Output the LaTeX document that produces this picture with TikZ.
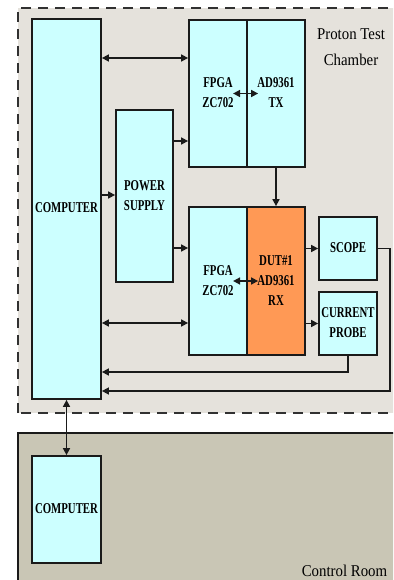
\documentclass[tikz,border=0pt]{standalone}
\usepackage{fontspec}
\setmainfont{Liberation Serif}
\usepackage{graphicx}
\usetikzlibrary{arrows.meta}
\definecolor{boxc}{HTML}{CCFFFF}
\definecolor{dutc}{HTML}{FF9955}
\definecolor{chamberc}{HTML}{E5E2DC}
\definecolor{roomc}{HTML}{C9C6B5}
\definecolor{linec}{HTML}{1A1A1A}
\newcommand{\cz}[1]{\scalebox{0.72}[1]{\begin{tabular}{@{}c@{}}#1\end{tabular}}}
\newcommand{\rz}[1]{\scalebox{0.9}[1]{\begin{tabular}{@{}c@{}}#1\end{tabular}}}
\tikzset{
  box/.style={draw=linec, line width=1.8pt, fill=boxc, inner sep=0pt, anchor=center,
    font=\bfseries\fontsize{15}{20}\selectfont},
  region/.style={font=\fontsize{16.5}{26}\selectfont, inner sep=0pt},
  conn/.style={draw=linec, line width=1.6pt},
  arr/.style={conn, -{Triangle[length=7pt,width=7pt]}},
  darr/.style={conn, {Triangle[length=7pt,width=7pt]}-{Triangle[length=7pt,width=7pt]}}
}
\begin{document}
\begin{tikzpicture}[x=1pt,y=-1pt]
\useasboundingbox (0,0) rectangle (393,580);
\clip (0,0) rectangle (393,580);
\fill[white] (0,0) rectangle (393,580);
% regions
\draw[fill=chamberc, draw=linec!90, line width=2.4pt, dash pattern=on 10pt off 7pt] (18,413) -- (18,8) -- (410,8) -- (410,413) -- cycle;
\draw[fill=roomc, draw=linec, line width=1.8pt] (18,600) -- (18,433) -- (410,433) -- (410,600);
\node[region] (ptc) at (351,47) {\rz{Proton Test\\Chamber}};
\node[region] (cr) at (344.5,571) {\rz{Control Room}};
% boxes
\node[box, minimum width=69pt, minimum height=380pt] (comp) at (66.5,209) {\cz{COMPUTER}};
\node[box, minimum width=57pt, minimum height=172pt] (pow) at (144.5,196) {\cz{POWER\\SUPPLY}};
\node[box, minimum width=58pt, minimum height=147pt] (fpgatx) at (218,93.5) {\cz{FPGA\\ZC702}};
\node[box, minimum width=58pt, minimum height=147pt] (adtx) at (276,93.5) {\cz{AD9361\\TX}};
\node[box, minimum width=58pt, minimum height=148pt] (fpgarx) at (218,281) {\cz{FPGA\\ZC702}};
\node[box, fill=dutc, minimum width=58pt, minimum height=148pt] (dut) at (276,281) {\cz{DUT\#1\\AD9361\\RX}};
\node[box, minimum width=58pt, minimum height=63pt] (scope) at (348,248.5) {\cz{SCOPE}};
\node[box, minimum width=58pt, minimum height=63pt] (probe) at (348,323.5) {\cz{CURRENT\\PROBE}};
\node[box, minimum width=69pt, minimum height=107pt] (comp2) at (66.5,509.5) {\cz{COMPUTER}};
% level coordinates
\coordinate (y58) at (0,58);
\coordinate (y141) at (0,141);
\coordinate (y195) at (0,195);
\coordinate (y248) at (0,248);
\coordinate (y323) at (0,323);
\coordinate (y372) at (0,372);
\coordinate (y391) at (0,391);
\coordinate (sc) at (390,248.5);
% connectors
\draw[darr] (comp.east |- y58) -- (fpgatx.west |- y58);
\draw[arr] (pow.east |- y141) -- (fpgatx.west |- y141);
\draw[arr] (comp.east |- y195) -- (pow.west |- y195);
\draw[arr] (pow.east |- y248) -- (fpgarx.west |- y248);
\draw[arr] (adtx.south) -- (dut.north);
\draw[darr] ([xshift=-13pt]adtx.west) -- ([xshift=12pt]adtx.west);
\draw[darr] ([xshift=-13pt]dut.west) -- ([xshift=12pt]dut.west);
\draw[arr] (dut.east |- scope.west) -- (scope.west);
\draw[arr] (dut.east |- probe.west) -- (probe.west);
\draw[darr] (comp.east |- y323) -- (fpgarx.west |- y323);
\draw[arr] (probe.south) |- (comp.east |- y372);
\draw[arr] (scope.east) -- (sc) |- (comp.east |- y391);
\draw[darr] (comp.south) -- (comp2.north);
\end{tikzpicture}
\end{document}
